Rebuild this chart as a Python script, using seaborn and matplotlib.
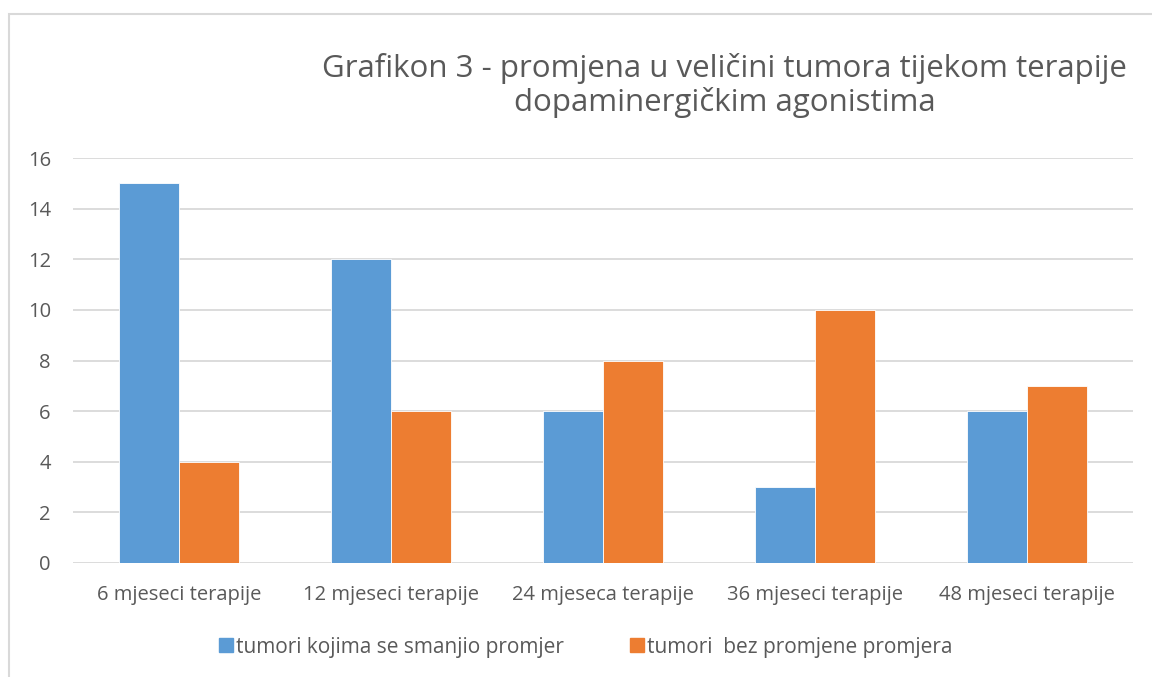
import pandas as pd
import seaborn as sns
import matplotlib.pyplot as plt
from matplotlib.patches import Rectangle
from matplotlib.lines import Line2D

categories = ['6 mjeseci terapije', '12 mjeseci terapije', '24 mjeseca terapije',
              '36 mjeseci terapije', '48 mjeseci terapije']
series_names = ['tumori kojima se smanjio promjer', 'tumori  bez promjene promjera']
smanjeni = [15, 12, 6, 3, 6]
bez_promjene = [4, 6, 8, 10, 7]
colors = ['#5B9BD5', '#ED7D31']
yticks = [0, 2, 4, 6, 8, 10, 12, 14, 16]

df = pd.DataFrame({
    'kategorija': categories * 2,
    'serija': [series_names[0]] * 5 + [series_names[1]] * 5,
    'broj': smanjeni + bez_promjene,
})

sns.set_style('white')
plt.rcParams['font.family'] = ['Open Sans', 'DejaVu Sans']
text_color = '#595959'
grid_color = '#D9D9D9'

fig = plt.figure(figsize=(11.52, 6.77), dpi=100)
ax = fig.add_axes([0.0634, 0.1684, 0.92, 0.5982])

sns.barplot(data=df, x='kategorija', y='broj', hue='serija', palette=colors,
            saturation=1, width=0.566, edgecolor='white', linewidth=0.6,
            ax=ax, legend=False)

ax.set_ylim(0, 16)
ax.set_yticks(yticks)
ax.set_xlim(-0.5, 4.5)
ax.yaxis.grid(True, color=grid_color, linewidth=1.3)
ax.set_axisbelow(True)
for s in ax.spines.values():
    s.set_visible(False)
ax.set_xlabel('')
ax.set_ylabel('')
ax.tick_params(axis='both', length=0, labelsize=14.5, labelcolor=text_color)
ax.tick_params(axis='y', pad=16)
ax.tick_params(axis='x', pad=16)

fig.text(0.629, 0.874, 'Grafikon 3 - promjena u veličini tumora tijekom terapije\ndopaminergičkim agonistima',
         ha='center', va='center', fontsize=22.5, color=text_color, linespacing=1.15)

handles = [Line2D([], [], marker='s', linestyle='', markersize=10, color=c) for c in colors]
fig.legend(handles, series_names, loc='center', bbox_to_anchor=(0.507, 0.044), ncol=2,
           frameon=False, fontsize=15, labelcolor=text_color, handletextpad=0.0,
           handlelength=1.0, columnspacing=3.0)

fig.patches.append(Rectangle((8.5 / 1152, -0.1), 1.2, 1 - 13.5 / 677 + 0.1,
                             transform=fig.transFigure, fill=False,
                             edgecolor=grid_color, linewidth=1.5))

fig.savefig('out.png', dpi=100)
plt.close(fig)
